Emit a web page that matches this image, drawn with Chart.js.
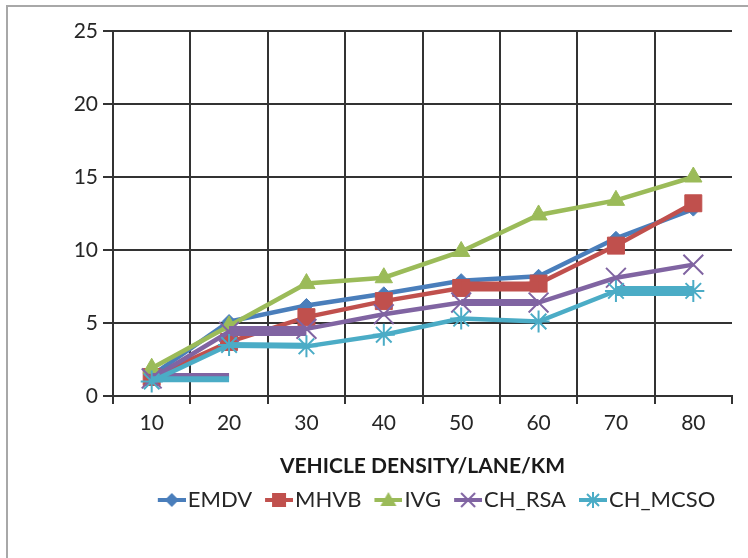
<!DOCTYPE html>
<html>
<head>
<meta charset="utf-8">
<script src="https://cdn.jsdelivr.net/npm/chart.js@4/dist/chart.umd.min.js"></script>
<style>
  html, body { margin: 0; padding: 0; background: #ffffff; }
  #wrap { position: relative; width: 748px; height: 558px; }
</style>
</head>
<body>
<div id="wrap"><canvas id="c"></canvas></div>
<script>
// ---- data ----
const categories = ['10', '20', '30', '40', '50', '60', '70', '80'];
const yTickMin = 0;
const yTickMax = 25;
const yTickStep = 5;
const xTitle = 'VEHICLE DENSITY/LANE/KM';
const seriesNames = ['EMDV', 'MHVB', 'IVG', 'CH_RSA', 'CH_MCSO'];

const emdv   = [1.4, 5.1, 6.2, 7.0, 7.9, 8.2, 10.8, 12.8];
const mhvb   = [1.3, 3.7, 5.4, 6.5, 7.4, 7.7, 10.3, 13.2];
const ivg    = [1.9, 4.8, 7.7, 8.1, 9.9, 12.4, 13.4, 15.0];
const chRsa  = [1.2, 4.4, 4.6, 5.6, 6.4, 6.4, 8.1, 9.0];
const chMcso = [1.0, 3.5, 3.4, 4.2, 5.3, 5.1, 7.2, 7.2];

// flat overlapping segments visible in the reference (no legend entry)
const rsaFlatA  = [1.4, 1.4, null, null, null, null, null, null];
const mcsoFlatA = [1.15, 1.15, null, null, null, null, null, null];
const rsaFlatB  = [null, 4.45, 4.45, null, null, null, null, null];
const mcsoFlatB = [null, 3.5, 3.45, null, null, null, null, null];
const mhvbFlat  = [null, null, null, null, 7.5, 7.5, null, null];
const rsaFlatC  = [null, null, null, null, 6.4, 6.4, null, null];
const mcsoFlatC = [null, null, null, null, null, null, 7.2, 7.2];

// ---- styling ----
const COLORS = ['#4a7ebb', '#c0504d', '#9bbb59', '#8064a2', '#4bacc6'];
const GRID = '#333333';
const TEXT = '#262626';
const FONT = 'Lato, "Open Sans", sans-serif';
const LEGEND_CENTER_X = 435;

function makeIcon(idx) {
  // icon drawn right of canvas centre so that it sits close to its text
  const w = 40, h = 22;
  const cv = document.createElement('canvas');
  cv.width = w; cv.height = h;
  const g = cv.getContext('2d');
  const col = COLORS[idx];
  const x0 = 12, x1 = 40;
  const cx = (x0 + x1) / 2, cy = h / 2;
  g.strokeStyle = col; g.fillStyle = col;
  g.lineWidth = 4;
  g.beginPath(); g.moveTo(x0, cy); g.lineTo(x1, cy); g.stroke();
  g.lineWidth = 2;
  if (idx === 0) {
    g.beginPath(); g.moveTo(cx, cy - 7); g.lineTo(cx + 7, cy); g.lineTo(cx, cy + 7); g.lineTo(cx - 7, cy); g.closePath(); g.fill();
  } else if (idx === 1) {
    g.fillRect(cx - 7, cy - 7, 14, 14);
  } else if (idx === 2) {
    g.beginPath(); g.moveTo(cx, cy - 8); g.lineTo(cx + 8, cy + 6); g.lineTo(cx - 8, cy + 6); g.closePath(); g.fill();
  } else if (idx === 3) {
    g.beginPath(); g.moveTo(cx - 7, cy - 7); g.lineTo(cx + 7, cy + 7); g.moveTo(cx + 7, cy - 7); g.lineTo(cx - 7, cy + 7); g.stroke();
  } else {
    g.beginPath();
    g.moveTo(cx - 6, cy - 6); g.lineTo(cx + 6, cy + 6); g.moveTo(cx + 6, cy - 6); g.lineTo(cx - 6, cy + 6);
    g.moveTo(cx, cy - 8); g.lineTo(cx, cy + 8);
    g.stroke();
  }
  return cv;
}
const legendIcons = [0, 1, 2, 3, 4].map(makeIcon);

function series(label, data, idx, style, radius, order, filled) {
  return {
    label, data, order,
    borderColor: COLORS[idx],
    backgroundColor: COLORS[idx],
    borderWidth: 4.5,
    pointStyle: style,
    pointRadius: radius,
    pointHoverRadius: radius,
    pointBorderColor: COLORS[idx],
    pointBackgroundColor: filled ? COLORS[idx] : 'transparent',
    pointBorderWidth: filled ? 1 : 2,
    tension: 0,
    fill: false
  };
}
function flat(data, idx, width, order) {
  return {
    label: '_flat', data, order,
    borderColor: COLORS[idx],
    backgroundColor: COLORS[idx],
    borderWidth: width,
    borderCapStyle: 'butt',
    pointRadius: 0,
    pointHoverRadius: 0,
    spanGaps: false,
    tension: 0,
    fill: false
  };
}

const framePlugin = {
  id: 'frame',
  afterLayout(chart) {
    const lg = chart.legend;
    if (lg) {
      const shift = LEGEND_CENTER_X - (lg.left + lg.right) / 2;
      lg.left += shift; lg.right += shift;
    }
  },
  beforeDraw(chart) {
    const ctx = chart.ctx;
    ctx.save();
    ctx.fillStyle = '#ffffff';
    ctx.fillRect(0, 0, chart.width, chart.height);
    ctx.strokeStyle = '#a8a8a8';
    ctx.lineWidth = 2;
    ctx.beginPath();
    ctx.moveTo(7, chart.height);
    ctx.lineTo(7, 6);
    ctx.lineTo(chart.width, 6);
    ctx.stroke();
    ctx.restore();
  }
};

new Chart(document.getElementById('c'), {
  type: 'line',
  data: {
    labels: categories,
    datasets: [
      series(seriesNames[0], emdv, 0, 'rectRot', 7, 10, true),
      series(seriesNames[1], mhvb, 1, 'rect', 12, 9, true),
      series(seriesNames[2], ivg, 2, 'triangle', 10, 8, true),
      series(seriesNames[3], chRsa, 3, 'crossRot', 14, 7, false),
      series(seriesNames[4], chMcso, 4, 'star', 11, 6, false),
      flat(mhvbFlat, 1, 10, 8.5),
      flat(rsaFlatA, 3, 5, 6.5),
      flat(rsaFlatB, 3, 10, 6.5),
      flat(rsaFlatC, 3, 7, 6.5),
      flat(mcsoFlatA, 4, 6, 5.5),
      flat(mcsoFlatB, 4, 6, 5.5),
      flat(mcsoFlatC, 4, 10, 5.5)
    ]
  },
  options: {
    responsive: true,
    maintainAspectRatio: false,
    animation: false,
    events: [],
    layout: { padding: { top: 31, right: 15, left: 7, bottom: 37 } },
    scales: {
      x: {
        offset: true,
        grid: {
          offset: true,
          color: (c) => (c.type === 'tick' ? GRID : 'rgba(0,0,0,0)'),
          tickColor: GRID,
          lineWidth: 2,
          tickLength: 8
        },
        border: { display: true, color: GRID, width: 2 },
        ticks: { color: TEXT, font: { family: FONT, size: 21 }, padding: 7, maxRotation: 0 },
        title: { display: true, text: xTitle, color: '#1a1a1a', font: { family: FONT, size: 21, weight: 'bold' }, padding: { top: 6, bottom: 0 } },
        afterFit: (s) => { s.height = 83; }
      },
      y: {
        min: yTickMin, max: yTickMax,
        ticks: { stepSize: yTickStep, color: TEXT, font: { family: FONT, size: 21 }, padding: 5 },
        grid: { color: GRID, lineWidth: 2, tickLength: 10 },
        border: { display: true, color: GRID, width: 2 },
        afterFit: (s) => { s.width = 106; }
      }
    },
    plugins: {
      tooltip: { enabled: false },
      legend: {
        position: 'bottom',
        fullSize: false,
        labels: {
          usePointStyle: true,
          pointStyleWidth: 22,
          color: TEXT,
          font: { family: FONT, size: 22 },
          padding: 10,
          generateLabels(chart) {
            const items = Chart.defaults.plugins.legend.labels.generateLabels(chart);
            return items
              .filter(i => i.datasetIndex < seriesNames.length)
              .sort((a, b) => a.datasetIndex - b.datasetIndex)
              .map(i => Object.assign(i, { pointStyle: legendIcons[i.datasetIndex], lineWidth: 0 }));
          }
        }
      }
    }
  },
  plugins: [framePlugin]
});
</script>
</body>
</html>
